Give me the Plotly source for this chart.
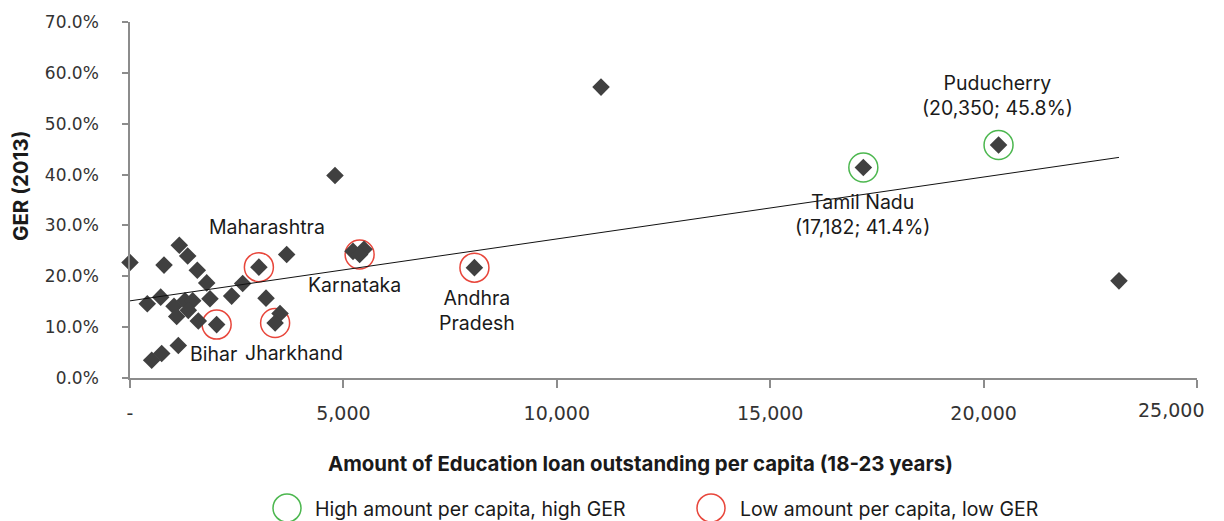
import numpy as np
import plotly.graph_objects as go

# State-wise education loan outstanding per capita (18-23 years) vs GER 2013 (%)
state = [
    "", "", "", "", "", "", "", "", "", "", "", "", "", "", "",
    "Bihar", "", "", "", "", "", "Maharashtra", "", "", "", "Jharkhand",
    "", "", "Karnataka", "", "Andhra Pradesh", "", "Tamil Nadu", "Puducherry", "",
]
loan_per_capita = [
    0, 405, 797, 719, 1155, 1352, 1577, 1797, 1874, 1031, 1094, 1289, 1469, 1366, 1600,
    2030, 508, 743, 1132, 2382, 2640, 3020, 3671, 3187, 3515, 3400,
    5225, 5483, 5380, 4803, 8070, 11036, 17182, 20350, 23172,
]
ger_2013 = [
    22.7, 14.6, 22.2, 15.9, 26.1, 24.0, 21.2, 18.7, 15.6, 14.1, 12.1, 15.2, 15.2, 13.3, 11.2,
    10.5, 3.5, 4.8, 6.4, 16.1, 18.6, 21.8, 24.3, 15.7, 12.7, 10.8,
    24.9, 25.3, 24.3, 39.8, 21.7, 57.2, 41.4, 45.8, 19.1,
]

high_high = ["Tamil Nadu", "Puducherry"]
low_low = ["Bihar", "Jharkhand", "Maharashtra", "Karnataka", "Andhra Pradesh"]
legend_names = ["High amount per capita, high GER", "Low amount per capita, low GER"]

x_ticks = [0, 5000, 10000, 15000, 20000, 25000]
y_ticks = [0, 10, 20, 30, 40, 50, 60, 70]

DIAMOND = "#404040"
GREEN = "#4cb74f"
RED = "#e8463b"
AXIS = "#8c8c8c"
TEXT = "#1a1a1a"
TICK_TEXT = "#333333"
FONT = "Inter"
TEXT_SIZE = 19.5

x = np.array(loan_per_capita, dtype=float)
y = np.array(ger_2013, dtype=float)
idx = {name: i for i, name in enumerate(state) if name}

fig = go.Figure()

# highlight rings
for names, color in [(high_high, GREEN), (low_low, RED)]:
    fig.add_trace(go.Scatter(
        x=[x[idx[n]] for n in names], y=[y[idx[n]] for n in names],
        mode="markers", cliponaxis=False, hoverinfo="skip",
        marker=dict(symbol="circle-open", size=29, color=color, line=dict(width=1.5)),
    ))

# all states
fig.add_trace(go.Scatter(
    x=x, y=y, mode="markers", cliponaxis=False,
    marker=dict(symbol="diamond", size=13.5, color=DIAMOND),
))

# linear trend line
slope, intercept = np.polyfit(x, y, 1)
tx = np.array([0, x.max()])
fig.add_trace(go.Scatter(
    x=tx, y=intercept + slope * tx, mode="lines", hoverinfo="skip",
    line=dict(color="#111111", width=1),
))

# state labels (pixel offsets from the point)
label_offsets = {
    "Maharashtra": (8, 40),
    "Karnataka": (-5, -31),
    "Bihar": (-3, -29),
    "Jharkhand": (19, -30),
    "Andhra Pradesh": (3, -43),
    "Tamil Nadu": (-1, -47),
    "Puducherry": (-1, 50),
}
for name, (dx, dy) in label_offsets.items():
    i = idx[name]
    text = name
    if name == "Andhra Pradesh":
        text = "Andhra<br>Pradesh"
    if name in high_high:
        text = f"{name}<br>({x[i]:,.0f}; {y[i]:.1f}%)"
    fig.add_annotation(
        x=x[i], y=y[i], xref="x", yref="y", text=text, showarrow=False,
        xshift=dx, yshift=dy, xanchor="center", yanchor="middle",
        font=dict(family=FONT, size=TEXT_SIZE, color=TEXT),
    )

# plot area in pixels: x 130..1197, y 22..378
L, R, T, B = 130, 1197, 22, 378


def px(xp):
    return (xp - L) / (R - L)


def py(yp):
    return (B - yp) / (B - T)


# axis titles
fig.add_annotation(
    x=px(640), y=py(463), xref="paper", yref="paper", showarrow=False,
    text="<b>Amount of Education loan outstanding per capita (18-23 years)</b>",
    xanchor="center", yanchor="middle",
    font=dict(family=FONT, size=20.4, color=TEXT),
)
fig.add_annotation(
    x=px(20), y=py(186), xref="paper", yref="paper", showarrow=False,
    text="<b>GER (2013)</b>", textangle=-90,
    xanchor="center", yanchor="middle",
    font=dict(family=FONT, size=20.5, color=TEXT),
)

# legend
for (cx, tx0), name, color in zip([(287, 313), (711, 738)], legend_names, [GREEN, RED]):
    fig.add_shape(
        type="circle", xref="paper", yref="paper", xsizemode="pixel", ysizemode="pixel",
        xanchor=px(cx), yanchor=py(508), x0=-14, x1=14, y0=-14, y1=14,
        line=dict(color=color, width=1.5),
    )
    fig.add_annotation(
        x=px(tx0), y=py(509), xref="paper", yref="paper", showarrow=False,
        text=name, xanchor="left", yanchor="middle",
        font=dict(family=FONT, size=TEXT_SIZE, color=TEXT),
    )

fig.update_layout(
    width=1224, height=521, autosize=False,
    margin=dict(l=L, r=1224 - R, t=T, b=521 - B, autoexpand=False),
    plot_bgcolor="white", paper_bgcolor="white", showlegend=False,
    font=dict(family=FONT, color=TEXT),
)

# x tick labels; the last one is right-aligned to stay inside the chart
x_ticktext = ["-" if v == 0 else f"{v:,}" for v in x_ticks]
fig.add_annotation(
    x=x_ticks[-1], y=py(410), xref="x", yref="paper", showarrow=False,
    text=x_ticktext[-1], xanchor="right", yanchor="middle", xshift=9,
    font=dict(family="DejaVu Sans", size=19, color=TICK_TEXT),
)
x_ticktext[-1] = ""

fig.update_xaxes(
    range=[0, 25000], showgrid=False, zeroline=False, automargin=False,
    showline=True, linecolor=AXIS, linewidth=1.5,
    ticks="outside", ticklen=8, tickcolor=AXIS, tickwidth=1.5,
    tickvals=x_ticks, ticktext=x_ticktext,
    tickfont=dict(family="DejaVu Sans", size=19, color=TICK_TEXT),
    ticklabelstandoff=9,
)
fig.update_yaxes(
    range=[0, 70], showgrid=False, zeroline=False, automargin=False,
    showline=True, linecolor=AXIS, linewidth=1.5,
    ticks="outside", ticklen=6, tickcolor=AXIS, tickwidth=1.5,
    tickvals=y_ticks, ticktext=[f"{v:.1f}%" for v in y_ticks],
    tickfont=dict(family="DejaVu Sans", size=17, color=TICK_TEXT),
    ticklabelstandoff=20,
)

fig.write_html("out.html")
